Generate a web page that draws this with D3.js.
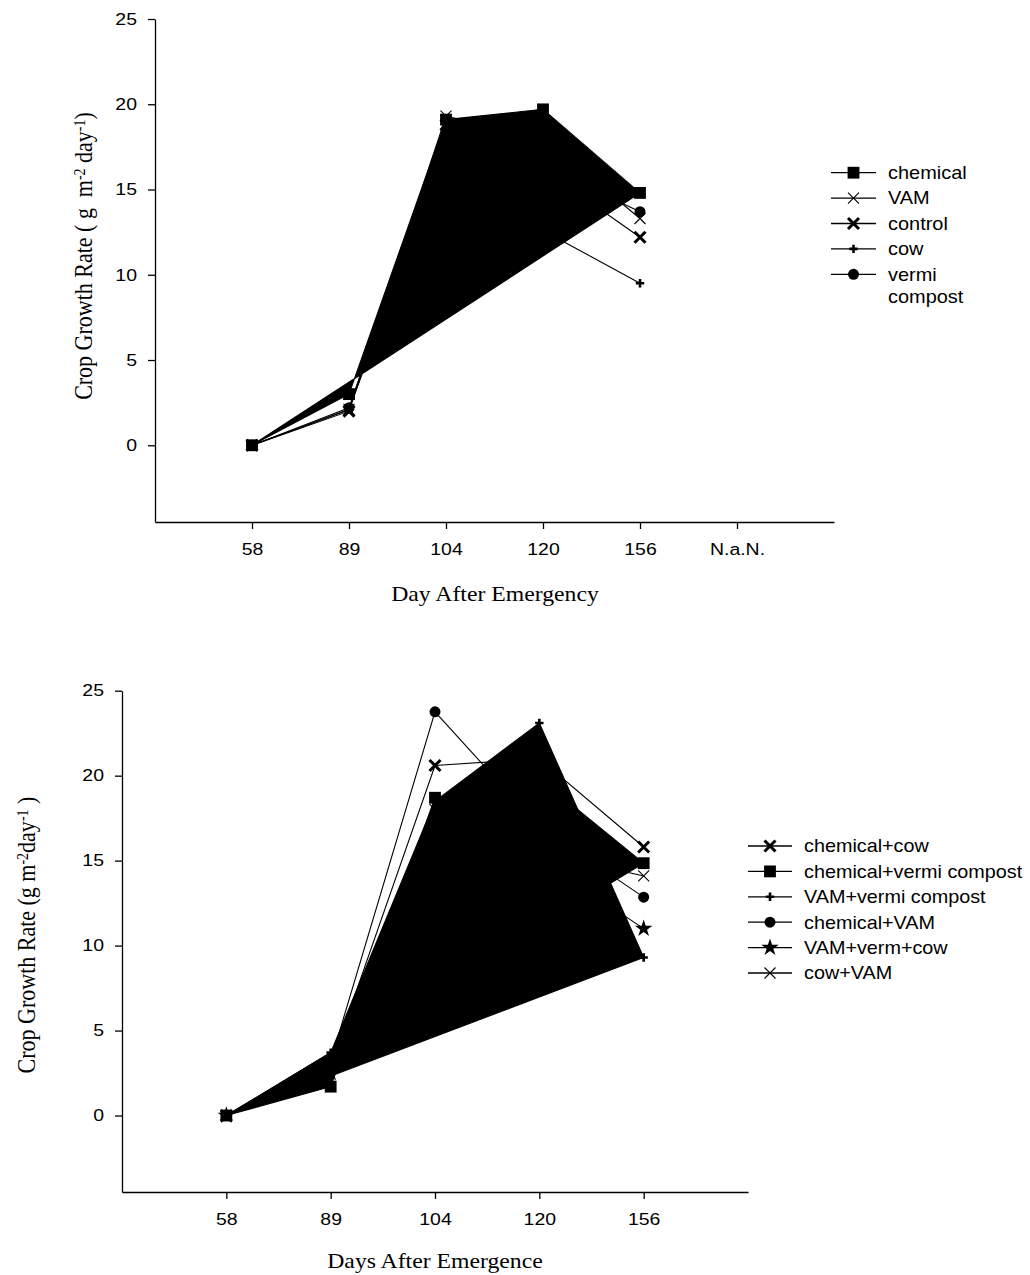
<!DOCTYPE html>
<html><head><meta charset="utf-8">
<script src="https://cdn.jsdelivr.net/npm/d3@7"></script>
<style>body{margin:0;background:#fff} svg text{white-space:pre}</style>
</head><body>
<svg id="c" width="1030" height="1275" xmlns="http://www.w3.org/2000/svg"></svg>
<script>
// ---------- DATA ----------
const yTicks = [0, 5, 10, 15, 20, 25];

// Top panel
const topCategories = ["58", "89", "104", "120", "156", "N.a.N."];
const topSeriesNames = ["chemical", "VAM", "control", "cow", "vermi compost"];
const topChemical = [0, 3.0, 19.1, 19.7, 14.8];
const topVAM      = [0, 2.1, 19.3, 18.0, 13.3];
const topControl  = [0, 2.0, 18.8, 16.2, 12.2];
const topCow      = [0, 2.1, 17.5, 12.6, 9.5];
const topVermi    = [0, 2.2, 18.5, 16.4, 13.7];

// Bottom panel
const bottomCategories = ["58", "89", "104", "120", "156"];
const bottomSeriesNames = ["chemical+cow", "chemical+vermi compost", "VAM+vermi compost", "chemical+VAM", "VAM+verm+cow", "cow+VAM"];
const botChemCow     = [0, 3.0, 20.6, 21.0, 15.8];
const botChemVermi   = [0, 1.7, 18.7, 19.85, 14.85];
const botVamVermi    = [0, 3.7, 18.5, 23.1, 9.3];
const botChemVam     = [0, 3.2, 23.76, 17.0, 12.85];
const botVamVermCow  = [0, 2.5, 17.0, 15.1, 11.0];
const botCowVam      = [0, 2.8, 18.0, 15.5, 14.1];

// ---------- STYLE ----------
const SANS = "'Liberation Sans', Arial, sans-serif";
const SERIF = "'Liberation Serif', 'Times New Roman', serif";
const svg = d3.select("#c");

function drawMarker(g, type, cx, cy) {
  const m = g.append("g").attr("transform", `translate(${cx},${cy})`);
  if (type === "square") m.append("path").attr("d", d3.symbol(d3.symbolSquare, 140)()).attr("fill", "#000");
  else if (type === "circle") m.append("path").attr("d", d3.symbol(d3.symbolCircle, 95)()).attr("fill", "#000");
  else if (type === "star") m.append("path").attr("d", d3.symbol(d3.symbolStar, 95)()).attr("fill", "#000");
  else {
    let r, sw, d;
    if (type === "xthick") { r = 5.5; sw = 3; d = `M${-r},${-r}L${r},${r}M${-r},${r}L${r},${-r}`; }
    else if (type === "xthin") { r = 5.5; sw = 1.1; d = `M${-r},${-r}L${r},${r}M${-r},${r}L${r},${-r}`; }
    else { r = 4.2; sw = 2.6; d = `M${-r},0H${r}M0,${-r}V${r}`; }
    m.append("path").attr("d", d).attr("stroke", "#000").attr("stroke-width", sw).attr("fill", "none");
  }
}

function stretched(g, x, y, str, size, family, sx, anchor) {
  return g.append("text")
    .attr("transform", `translate(${x},${y}) scale(${sx},1)`)
    .attr("font-family", family).attr("font-size", size)
    .attr("text-anchor", anchor || "start").attr("fill", "#000")
    .text(str);
}

function panel(cfg) {
  const x = d3.scaleLinear().domain(cfg.xDomain).range(cfg.xRange);
  const y = d3.scaleLinear().domain([-4.5, 25]).range(cfg.yRange);
  const g = svg.append("g");

  // series
  const line = d3.line().x((d, i) => x(i)).y(d => y(d));
  cfg.series.forEach(s => {
    if (s.filled) g.append("path").attr("d", line(s.values) + "Z").attr("fill", "#000").attr("stroke", "#000").attr("stroke-width", 1.1);
  });
  cfg.series.forEach(s => {
    if (!s.filled) g.append("path").attr("d", line(s.values)).attr("fill", "none").attr("stroke", "#000").attr("stroke-width", 1.1);
  });
  cfg.series.forEach(s => s.values.forEach((v, i) => drawMarker(g, s.marker, x(i), y(v))));

  // axes
  const ya = d3.axisLeft(y).tickValues(yTicks).tickSize(7).tickSizeOuter(0).tickFormat(d3.format("d"));
  const gy = g.append("g").attr("transform", `translate(${cfg.xRange[0]},0)`).call(ya);
  const xa = d3.axisBottom(x).tickValues(d3.range(cfg.categories.length)).tickSize(7).tickSizeOuter(0).tickFormat(i => cfg.categories[i]);
  const gx = g.append("g").attr("transform", `translate(0,${cfg.yRange[0]})`).call(xa);
  [gx, gy].forEach(a => {
    a.select(".domain").attr("stroke", "#000").attr("stroke-width", 1.3);
    a.selectAll(".tick line").attr("stroke", "#000").attr("stroke-width", 1.3);
    a.selectAll(".tick text").attr("font-family", SANS).attr("font-size", 16.5).attr("fill", "#000");
  });
  gy.selectAll(".tick text").attr("x", -18 / 1.18).attr("transform", "scale(1.18,1)");
  gx.selectAll(".tick text").attr("y", 21).attr("transform", "scale(1.18,1)");

  // x title
  stretched(g, cfg.xTitle.x, cfg.xTitle.y, cfg.xTitle.text, 21, SERIF, 1.13, "middle");

  // y title
  const yt = g.append("text")
    .attr("transform", `translate(${cfg.yTitle.x},${cfg.yTitle.y}) scale(1.12,1) rotate(-90)`)
    .attr("font-family", SERIF).attr("font-size", 22).attr("text-anchor", "middle").attr("fill", "#000");
  cfg.yTitle.parts.forEach(p => {
    const t = yt.append("tspan").text(p.t);
    if (p.sup) t.attr("font-size", 14).attr("baseline-shift", "45%");
  });

  // legend
  const L = cfg.legend;
  cfg.series.forEach((s, k) => {
    const yy = L.y0 + k * L.dy;
    g.append("line").attr("x1", L.x0).attr("x2", L.x1).attr("y1", yy).attr("y2", yy).attr("stroke", "#000").attr("stroke-width", 1.3);
    drawMarker(g, s.marker, (L.x0 + L.x1) / 2, yy);
    const lines = s.label;
    lines.forEach((ln, j) => stretched(g, L.tx, yy + 6.3 + j * 22.7, ln, L.size, SANS, L.sx));
  });
}

panel({
  categories: topCategories,
  xDomain: [-1, 6], xRange: [155, 834], yRange: [522, 19],
  series: [
    { label: [topSeriesNames[0]], values: topChemical, marker: "square", filled: true },
    { label: [topSeriesNames[1]], values: topVAM, marker: "xthin" },
    { label: [topSeriesNames[2]], values: topControl, marker: "xthick" },
    { label: [topSeriesNames[3]], values: topCow, marker: "plus" },
    { label: topSeriesNames[4].split(" "), values: topVermi, marker: "circle" }
  ],
  xTitle: { text: "Day After Emergency", x: 495, y: 601 },
  yTitle: { x: 92, y: 256, parts: [{ t: "Crop Growth Rate ( g  m" }, { t: "-2", sup: true }, { t: " day" }, { t: "-1", sup: true }, { t: ")" }] },
  legend: { x0: 831, x1: 876, tx: 888, y0: 172.7, dy: 25.4, size: 17.5, sx: 1.14 }
});

panel({
  categories: bottomCategories,
  xDomain: [-1, 5], xRange: [122, 748], yRange: [1192, 690.7],
  series: [
    { label: [bottomSeriesNames[0]], values: botChemCow, marker: "xthick" },
    { label: [bottomSeriesNames[1]], values: botChemVermi, marker: "square", filled: true },
    { label: [bottomSeriesNames[2]], values: botVamVermi, marker: "plus", filled: true },
    { label: [bottomSeriesNames[3]], values: botChemVam, marker: "circle" },
    { label: [bottomSeriesNames[4]], values: botVamVermCow, marker: "star" },
    { label: [bottomSeriesNames[5]], values: botCowVam, marker: "xthin" }
  ],
  xTitle: { text: "Days After Emergence", x: 435, y: 1268 },
  yTitle: { x: 35, y: 935, parts: [{ t: "Crop Growth Rate (g m" }, { t: "-2", sup: true }, { t: "day" }, { t: "-1", sup: true }, { t: " )" }] },
  legend: { x0: 748, x1: 792, tx: 804, y0: 846, dy: 25.4, size: 18, sx: 1.1 }
});
</script>
</body></html>
